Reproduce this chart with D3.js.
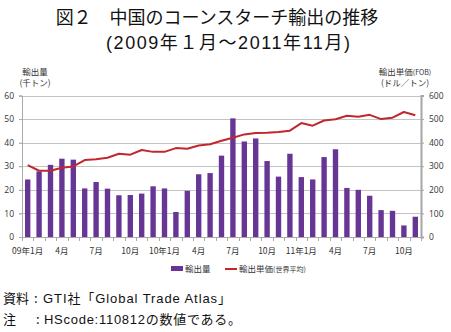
<!DOCTYPE html>
<html>
<head>
<meta charset="utf-8">
<script src="https://cdn.jsdelivr.net/npm/d3@7"></script>
<style>
  html, body { margin: 0; padding: 0; background: #fff; }
  svg { display: block; }
  text { font-family: "Noto Sans CJK JP", "Noto Sans", sans-serif; }
  .latin { font-family: "Liberation Sans", "Noto Sans CJK JP", sans-serif; }
</style>
</head>
<body>
<svg id="chart" width="451" height="332"></svg>
<script>
// Monthly exports, Jan 2009 – Nov 2011
const months = d3.range(35);
// export volume (thousand tons)
const volume = [
  24.4, 27.8, 30.6, 33.2, 32.8, 20.6, 23.3, 20.5, 17.7, 17.8, 18.4, 21.5,
  20.6, 10.6, 19.6, 26.6, 27.1, 34.5, 50.3, 40.5, 41.8, 32.2, 25.6, 35.3,
  25.4, 24.4, 33.9, 37.2, 20.8, 20.0, 17.5, 11.4, 11.1, 4.9, 8.6
];
// export unit price, world average (USD/ton, FOB)
const price = [
  305, 281, 281, 294, 299, 326, 330, 336, 353, 349, 369, 361,
  361, 377, 374, 388, 393, 408, 421, 435, 441, 442, 445, 451,
  483, 472, 494, 499, 514, 510, 518, 500, 506, 530, 516
];
// month labels shown every third month
const monthLabels = [
  [0, "09年1月"], [3, "4月"], [6, "7月"], [9, "10月"],
  [12, "10年1月"], [15, "4月"], [18, "7月"], [21, "10月"],
  [24, "11年1月"], [27, "4月"], [30, "7月"], [33, "10月"]
];
const volumeTicks = [0, 10, 20, 30, 40, 50, 60];
const priceTicks = [0, 100, 200, 300, 400, 500, 600];

const svg = d3.select("#chart");
const plotLeft = 22, plotRight = 421, plotTop = 95.5, plotBottom = 237;

const x = d3.scaleBand().domain(months).range([plotLeft, plotRight])
  .paddingInner(0.53).paddingOuter(0.265);
const yL = d3.scaleLinear().domain([0, 60]).range([plotBottom, plotTop]);
const yR = d3.scaleLinear().domain([0, 600]).range([plotBottom, plotTop]);

const gridColor = "#c4c4c4";
const labelColor = "#333";

// title
const title = svg.append("g").attr("fill", "#111");
title.append("text").attr("x", 217).attr("y", 24).attr("text-anchor", "middle")
  .attr("font-size", 18).text("図２　中国のコーンスターチ輸出の推移");
title.append("text").attr("class", "latin").attr("x", 106).attr("y", 49)
  .attr("font-size", 18).attr("textLength", 244).attr("lengthAdjust", "spacing")
  .text("(2009年１月～2011年11月)");

// horizontal gridlines
svg.append("g").selectAll("line")
  .data(volumeTicks.slice(1))
  .join("line")
  .attr("x1", plotLeft - 3).attr("x2", plotRight)
  .attr("y1", d => Math.round(yL(d)) + 0.5).attr("y2", d => Math.round(yL(d)) + 0.5)
  .attr("stroke", gridColor).attr("stroke-width", 1);

// left axis
const axL = svg.append("g").attr("transform", `translate(${plotLeft},0)`)
  .call(d3.axisLeft(yL).tickValues(volumeTicks).tickSize(3).tickPadding(5));
axL.select(".domain").attr("stroke", "#aaa");
axL.selectAll(".tick line").attr("stroke", "#aaa");
axL.selectAll(".tick text").attr("font-size", 8.5).attr("fill", labelColor)
  .style("font-family", "'Open Sans', 'Noto Sans', sans-serif");

// right axis
const axR = svg.append("g").attr("transform", `translate(${plotRight},0)`)
  .call(d3.axisRight(yR).tickValues(priceTicks).tickSize(3).tickPadding(5));
axR.select(".domain").attr("stroke", "#a6a6a6").attr("stroke-width", 2);
axR.selectAll(".tick line").attr("stroke", "#a6a6a6");
axR.selectAll(".tick text").attr("font-size", 8.5).attr("fill", labelColor)
  .style("font-family", "'Open Sans', 'Noto Sans', sans-serif");

// bars: export volume
svg.append("g").selectAll("rect")
  .data(months)
  .join("rect")
  .attr("x", i => x(i))
  .attr("width", x.bandwidth())
  .attr("y", i => yL(volume[i]))
  .attr("height", i => yL(0) - yL(volume[i]))
  .attr("fill", "#673594");

// bottom axis with ticks on band boundaries
svg.append("line")
  .attr("x1", plotLeft).attr("x2", plotRight)
  .attr("y1", plotBottom + 0.5).attr("y2", plotBottom + 0.5)
  .attr("stroke", "#aaa");
const step = x.step();
svg.append("g").selectAll("line")
  .data(d3.range(36))
  .join("line")
  .attr("x1", i => Math.round(plotLeft + i * step) + 0.5)
  .attr("x2", i => Math.round(plotLeft + i * step) + 0.5)
  .attr("y1", plotBottom).attr("y2", plotBottom + 4)
  .attr("stroke", "#aaa");

svg.append("g").selectAll("text")
  .data(monthLabels)
  .join("text")
  .attr("x", d => x(d[0]) + x.bandwidth() / 2)
  .attr("y", 254)
  .attr("text-anchor", "middle")
  .attr("font-size", 8.5)
  .attr("fill", labelColor)
  .text(d => d[1]);

// line: unit price
const line = d3.line()
  .x((d, i) => x(i) + x.bandwidth() / 2)
  .y(d => yR(d));
svg.append("path")
  .datum(price)
  .attr("d", line)
  .attr("fill", "none")
  .attr("stroke", "#c1272d")
  .attr("stroke-width", 2)
  .attr("stroke-linejoin", "round");

// axis titles
const at = svg.append("g").attr("font-size", 8.5).attr("fill", labelColor);
at.append("text").attr("x", 35).attr("y", 75).attr("text-anchor", "middle").text("輸出量");
at.append("text").attr("x", 35).attr("y", 86).attr("text-anchor", "middle").text("(千トン)");
at.append("text").attr("x", 405).attr("y", 75).attr("text-anchor", "middle")
  .call(t => {
    t.append("tspan").text("輸出単価");
    t.append("tspan").attr("font-size", 7).text("(FOB)");
  });
at.append("text").attr("x", 405).attr("y", 86).attr("text-anchor", "middle").text("(ドル／トン)");

// legend
const lg = svg.append("g").attr("font-size", 8.5).attr("fill", labelColor);
lg.append("rect").attr("x", 171).attr("y", 266).attr("width", 12).attr("height", 5).attr("fill", "#673594");
lg.append("text").attr("x", 185).attr("y", 272).text("輸出量");
lg.append("line").attr("x1", 225).attr("x2", 237).attr("y1", 269).attr("y2", 269)
  .attr("stroke", "#c1272d").attr("stroke-width", 2);
lg.append("text").attr("x", 239).attr("y", 272)
  .call(t => {
    t.append("tspan").text("輸出単価");
    t.append("tspan").attr("font-size", 7).text("(世界平均)");
  });

// source and note
const ft = svg.append("g").attr("font-size", 13).attr("fill", "#111");
ft.append("text").attr("x", 3).attr("y", 303).text("資料");
ft.append("text").attr("x", 34).attr("y", 303).text(":");
ft.append("text").attr("class", "latin").attr("x", 43).attr("y", 303)
  .attr("textLength", 188).attr("lengthAdjust", "spacing")
  .text("GTI社「Global Trade Atlas」");
ft.append("text").attr("x", 3).attr("y", 324).text("注");
ft.append("text").attr("x", 36).attr("y", 324).text(":");
ft.append("text").attr("class", "latin").attr("x", 44).attr("y", 324)
  .attr("textLength", 197).attr("lengthAdjust", "spacing")
  .text("HScode:110812の数値である。");
</script>
</body>
</html>
